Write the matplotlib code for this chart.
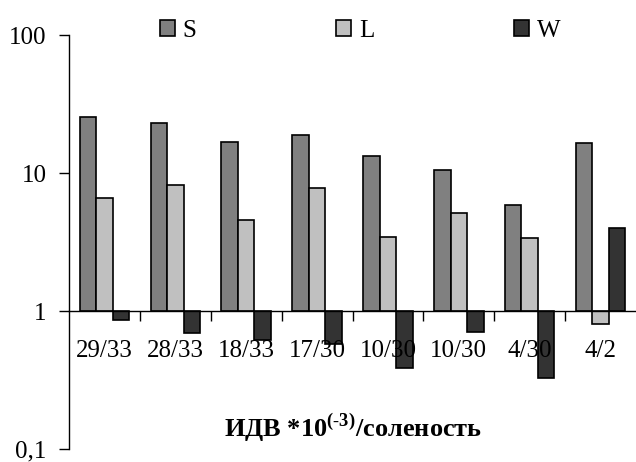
import matplotlib
matplotlib.use("Agg")
import matplotlib.pyplot as plt
import numpy as np

plt.rcParams["font.family"] = "Liberation Serif"
plt.rcParams["mathtext.fontset"] = "custom"
plt.rcParams["mathtext.bf"] = "Liberation Serif:bold"
plt.rcParams["mathtext.rm"] = "Liberation Serif"

# data
categories = ["29/33", "28/33", "18/33", "17/30", "10/30", "10/30", "4/30", "4/2"]
s_vals = [25.6, 22.9, 16.9, 18.9, 13.2, 10.5, 5.9, 16.4]
l_vals = [6.55, 8.2, 4.56, 7.75, 3.46, 5.13, 3.36, 0.80]
w_vals = [0.86, 0.69, 0.62, 0.58, 0.39, 0.71, 0.33, 3.97]
series_names = ["S", "L", "W"]
colors = ["#808080", "#c0c0c0", "#333333"]

fig = plt.figure(figsize=(6.36, 4.62), dpi=100)
ax = fig.add_axes([0.1085, 0.028, 0.8915, 0.896])

x = np.arange(len(categories))
w = 0.233
handles = []
for i, vals in enumerate([s_vals, l_vals, w_vals]):
    vals = np.array(vals)
    b = ax.bar(x + (i - 1) * w, vals - 1, bottom=1, width=w,
               color=colors[i], edgecolor="black", linewidth=1.2,
               label=series_names[i])
    handles.append(b)

ax.set_yscale("log")
ax.set_ylim(0.1, 100)
ax.set_xlim(-0.5, len(categories) - 0.5)
ax.set_yticks([0.1, 1, 10, 100])
ax.set_yticklabels(["0,1", "1", "10", "100"], fontsize=18)
ax.yaxis.set_minor_locator(matplotlib.ticker.NullLocator())
ax.tick_params(axis="y", direction="out", length=7, width=1, pad=9)

ax.spines["top"].set_visible(False)
ax.spines["right"].set_visible(False)
ax.spines["bottom"].set_position(("data", 1))
ax.spines["left"].set_linewidth(1)
ax.spines["bottom"].set_linewidth(1)

# boundary ticks and category labels
ax.set_xticks(np.arange(0.5, len(categories) - 0.5, 1))
ax.set_xticklabels([])
ax.tick_params(axis="x", which="major", direction="out", length=7, width=1)
ax.set_xticks(x, minor=True)
ax.set_xticklabels(categories, minor=True, fontsize=18)
ax.tick_params(axis="x", which="minor", length=0, pad=21)

fig.text(353 / 636, 1 - 428 / 462,
         r"ИДВ *10$^{\mathbf{(\text{-}3)}}$/соленость",
         ha="center", va="center", fontsize=19, fontweight="bold")

fig.legend(handles=handles, loc="center", bbox_to_anchor=(0.566, 1 - 31 / 462),
           ncol=3, frameon=False, fontsize=18, handlelength=0.6,
           handleheight=0.6, handletextpad=0.3, columnspacing=5.6)

fig.savefig("out.png", dpi=100)
